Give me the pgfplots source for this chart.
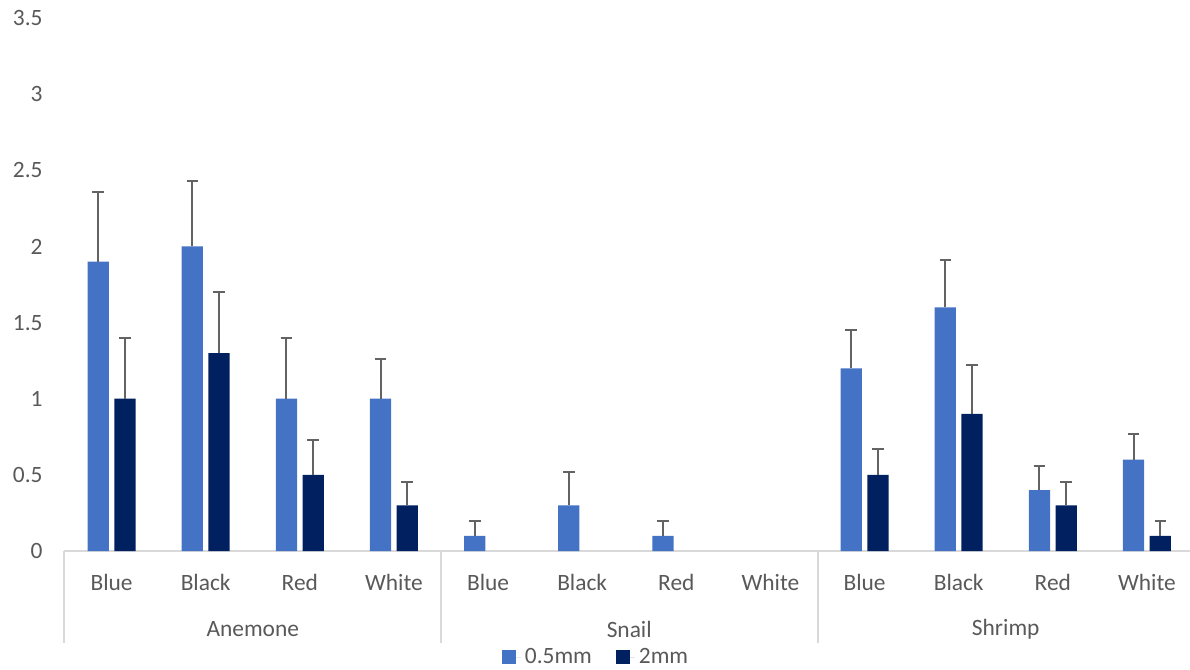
\documentclass[border=0pt]{standalone}
\usepackage{fontspec}
\setmainfont{Carlito}
\usepackage{pgfplots}
\pgfplotsset{compat=1.18}
\definecolor{lightbar}{HTML}{4472C4}
\definecolor{darkbar}{HTML}{002060}
\definecolor{txt}{HTML}{595959}
\definecolor{axgray}{HTML}{D9D9D9}
\definecolor{errgray}{HTML}{636363}
\newcommand{\lblfont}{\fontsize{11.7}{14}\selectfont}
\pgfplotsset{sqlegend/.style={legend image code/.code={\fill[##1] (0pt,-3.5pt) rectangle (7pt,3.5pt); \path (0pt,0pt) -- (9.5pt,0pt);}}}
\begin{document}
\begin{tikzpicture}
\begin{axis}[
 name=main,
 scale only axis, width=564.75pt, height=266.5pt,
 xmin=-0.5, xmax=11.5, ymin=0, ymax=3.5,
 ybar, bar width=10.65pt,
 axis x line*=bottom, axis y line*=left,
 x axis line style={axgray, line width=1pt},
 y axis line style={draw=none},
 xtick={0,...,11},
 xticklabels={Blue,Black,Red,White,Blue,Black,Red,White,Blue,Black,Red,White},
 ytick={0,0.5,1,1.5,2,2.5,3,3.5},
 yticklabels={0,0.5,1,1.5,2,2.5,3,3.5},
 major tick length=0pt,
 tick style={draw=none},
 x tick label style={anchor=center, yshift=-15.5pt, font=\lblfont, text=txt},
 y tick label style={anchor=east, inner sep=0pt, xshift=-10.75pt, font=\lblfont, text=txt},
 clip=false,
 legend style={at={(0.4715,-0.199)}, anchor=center, draw=none, fill=none,
   legend columns=2, font=\lblfont, text=txt, inner sep=0pt,
   /tikz/every even column/.append style={column sep=10pt}},
]
\addplot[sqlegend,
  fill=lightbar, draw=none, bar shift=-6.68pt,
  error bars/.cd, y dir=plus, y explicit,
  error bar style={errgray, line width=1pt},
  error mark options={draw=errgray, rotate=90, line width=1pt, mark size=2.9pt}]
coordinates {
 (0,1.9) +- (0,0.46)
 (1,2.0) +- (0,0.43)
 (2,1.0) +- (0,0.40)
 (3,1.0) +- (0,0.26)
 (4,0.1) +- (0,0.10)
 (5,0.3) +- (0,0.22)
 (6,0.1) +- (0,0.10)
 (8,1.2) +- (0,0.25)
 (9,1.6) +- (0,0.31)
 (10,0.4) +- (0,0.16)
 (11,0.6) +- (0,0.17)
};
\addlegendentry{0.5mm}
\addplot[sqlegend,
  fill=darkbar, draw=none, bar shift=6.68pt,
  error bars/.cd, y dir=plus, y explicit,
  error bar style={errgray, line width=1pt},
  error mark options={draw=errgray, rotate=90, line width=1pt, mark size=2.9pt}]
coordinates {
 (0,1.0) +- (0,0.40)
 (1,1.3) +- (0,0.40)
 (2,0.5) +- (0,0.23)
 (3,0.3) +- (0,0.15)
 (8,0.5) +- (0,0.17)
 (9,0.9) +- (0,0.32)
 (10,0.3) +- (0,0.15)
 (11,0.1) +- (0,0.10)
};
\addlegendentry{2mm}
\draw[axgray, line width=1pt] (axis cs:-0.5,0) -- ([yshift=-46pt]axis cs:-0.5,0);
\draw[axgray, line width=1pt] (axis cs:3.5,0) -- ([yshift=-46pt]axis cs:3.5,0);
\draw[axgray, line width=1pt] (axis cs:7.5,0) -- ([yshift=-46pt]axis cs:7.5,0);
\draw[axgray, line width=1pt] (axis cs:11.5,0) -- ([yshift=-46pt]axis cs:11.5,0);
\node[font=\lblfont, text=txt, anchor=center, yshift=-39pt] at (axis cs:1.5,0) {Anemone};
\node[font=\lblfont, text=txt, anchor=center, yshift=-39pt] at (axis cs:5.5,0) {Snail};
\node[font=\lblfont, text=txt, anchor=center, yshift=-39pt] at (axis cs:9.5,0) {Shrimp};
\end{axis}
\pgfresetboundingbox
\path[use as bounding box] (main.south west) ++(-32.25pt,-59.5pt) rectangle ++(595pt,335pt);
\end{tikzpicture}
\end{document}
